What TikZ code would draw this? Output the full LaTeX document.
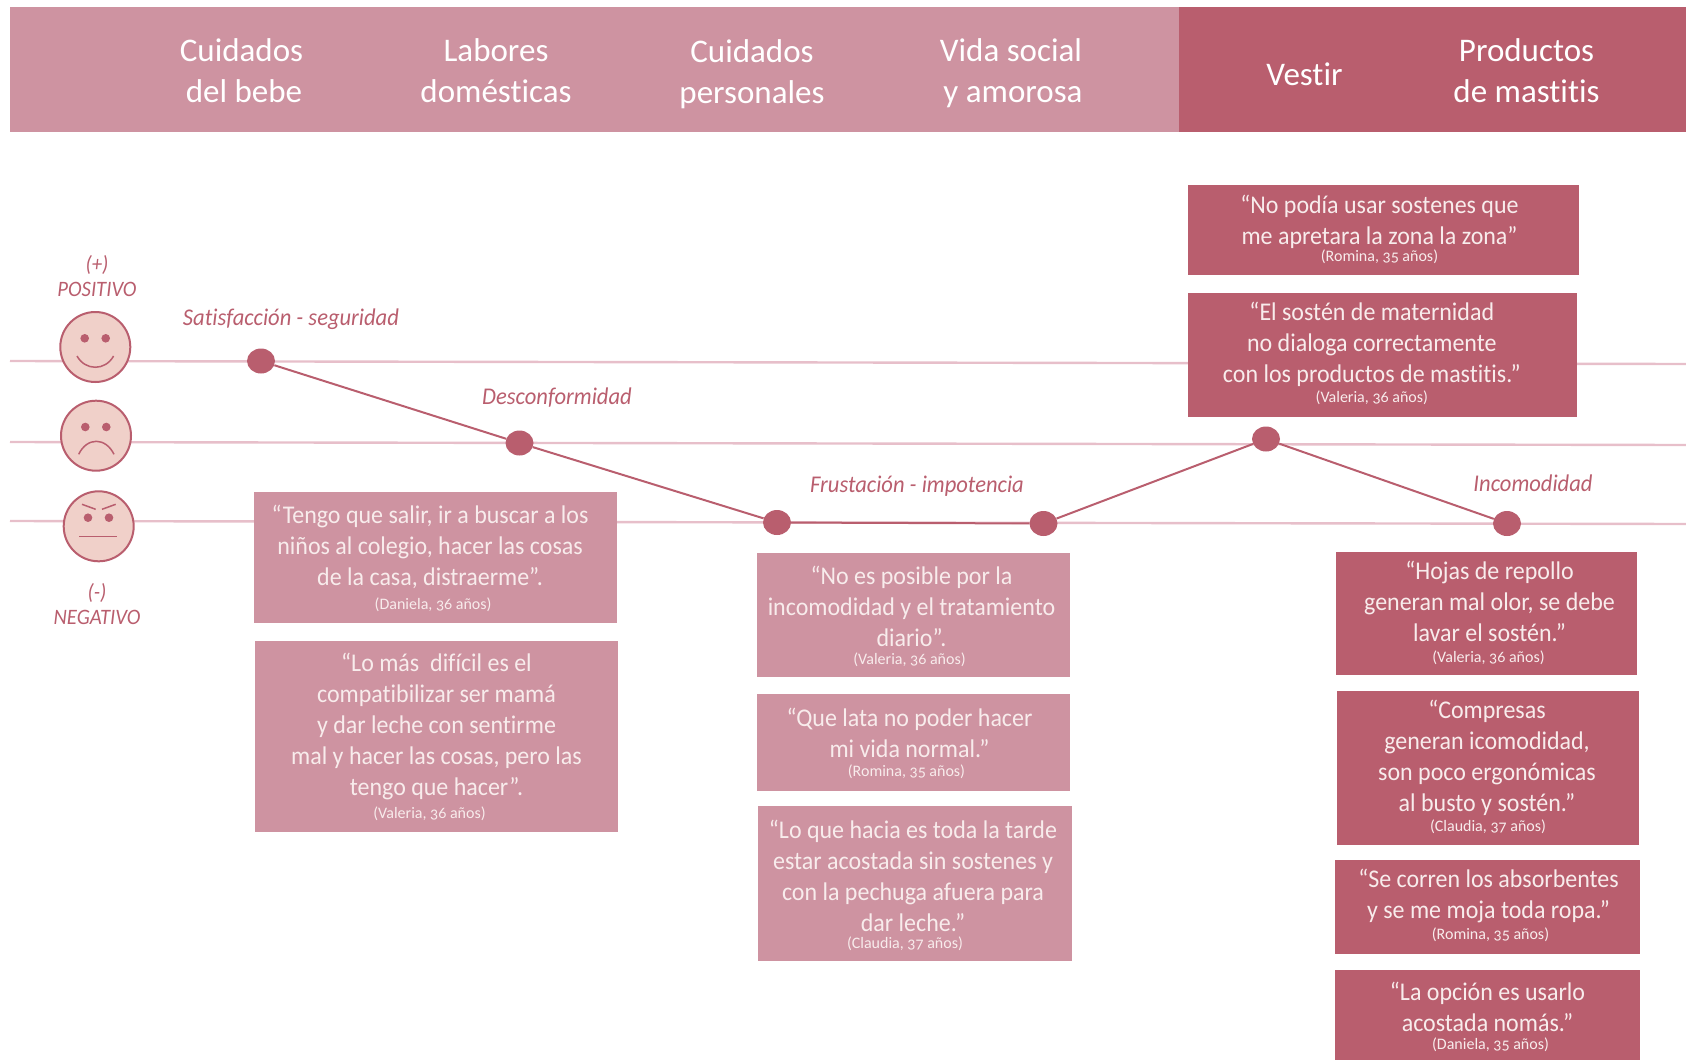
\documentclass[tikz,border=0pt]{standalone}
\usepackage{fontspec}
\setmainfont[Numbers=OldStyle,Ligatures=NoCommon]{Carlito}
\newfontfamily\quotefont[Numbers=OldStyle,Ligatures=NoCommon,FakeStretch=0.94]{Carlito}
\usepackage{xcolor}
\usetikzlibrary{shapes.geometric}
\definecolor{rosalight}{HTML}{CE93A1}
\definecolor{rosadark}{HTML}{B95E6E}
\definecolor{rosaface}{HTML}{F0D0C9}
\definecolor{rosaline}{HTML}{E7BFCA}
\definecolor{rosatext}{HTML}{F8ECEC}
% #1 gap to the line above, #2 sideways nudge, #3 who said it
\newcommand{\who}[3]{\\[#1]\hspace*{#2}{\normalfont\fontsize{16}{16}\selectfont #3}}
\tikzset{
	headtext/.style={text=white, align=center, font=\fontsize{33}{41}\selectfont, inner sep=0},
	quotetext/.style={text=rosatext, align=center, font=\quotefont\fontsize{25.5}{31}\selectfont, inner sep=0},
	moodtext/.style={text=rosadark, font=\quotefont\fontsize{24}{30}\selectfont\itshape, inner sep=0},
	sidetext/.style={text=rosadark, align=center, font=\quotefont\fontsize{22}{25}\selectfont\itshape, inner sep=0},
	quotelight/.style={fill=rosalight, inner sep=0},
	quotedark/.style={fill=rosadark, inner sep=0},
	face/.style={circle, draw=rosadark, line width=2pt, fill=rosaface, minimum size=70pt, inner sep=0},
	dot/.style={ellipse, fill=rosadark, minimum width=28pt, minimum height=25pt, inner sep=0},
	feature/.style={rosadark, line width=1.5pt}
}
\begin{document}
\begin{tikzpicture}[x=1pt,y=-1pt]
	\useasboundingbox (0,0) rectangle (1686,1060);

	% Header bands
	\node[quotelight, minimum width=1169pt, minimum height=125pt] (bandlight) at (594.5,69.5) {};
	\node[quotedark, minimum width=507pt, minimum height=125pt] (banddark) at (1432.5,69.5) {};
	\node[headtext] (bebe) at (241.5,71) {Cuidados\\ \hspace*{5pt}del bebe};
	\node[headtext] (labores) at (496,71) {Labores\\ domésticas};
	\node[headtext] (personales) at (752,74) {Cuidados\\ personales};
	\node[headtext] (vida) at (1011,73) {Vida social\\ \hspace*{4pt}y amorosa};
	\node[headtext] (vestir) at (1304.5,74) {Vestir};
	\node[headtext] (productos) at (1526.5,70.5) {Productos\\ de mastitis};

	% Mood levels
	\coordinate (highL) at (10,361);
	\coordinate (highR) at (1686,364);
	\coordinate (midL) at (10,442);
	\coordinate (midR) at (1686,445);
	\coordinate (lowL) at (10,521);
	\coordinate (lowR) at (1686,524);
	\draw[rosaline, line width=2.4pt] (highL) -- (highR);
	\draw[rosaline, line width=2.4pt] (midL) -- (midR);
	\draw[rosaline, line width=2.4pt] (lowL) -- (lowR);

	% Faces
	\node[face] (happy) at (95.3,347) {};
	\node[face] (sad) at (96,435.7) {};
	\node[face] (angry) at (98.7,526.3) {};
	\begin{scope}[shift={(95.3,347)}]
		\fill[rosadark] (-10.6,-8.7) circle (4.3) (10.4,-8.7) circle (4.3);
		\draw[feature] (-18.3,9) .. controls (-10,24) and (10,24) .. (18.3,9);
	\end{scope}
	\begin{scope}[shift={(96,435.7)}]
		\fill[rosadark] (-10.7,-8.7) circle (4.3) (10.3,-8.7) circle (4.3);
		\draw[feature] (-17.3,18.6) .. controls (-9,1.3) and (9.5,1.3) .. (18,18.6);
	\end{scope}
	\begin{scope}[shift={(98.7,526.3)}]
		\fill[rosadark] (-10.7,-8.6) circle (4.3) (10.3,-8.6) circle (4.3);
		\draw[feature] (-16.7,-22) -- (-3,-17);
		\draw[feature] (17,-22) -- (3.3,-17);
		\draw[feature] (-19.4,10) -- (18.3,10);
	\end{scope}
	\node[sidetext] (positivo) at (97,276) {(+)\\ POSITIVO};
	\node[sidetext] (negativo) at (97,604) {(-)\\ NEGATIVO};

	% Journey
	\node[dot] (satisf) at (261,361) {};
	\node[dot] (descon) at (519.5,443) {};
	\node[dot] (frusa) at (777,522.5) {};
	\node[dot] (frusb) at (1043.5,523.5) {};
	\node[dot] (vestido) at (1266,439) {};
	\node[dot] (incomo) at (1507,523.5) {};
	\draw[rosadark, line width=2pt] (satisf) -- (descon) -- (frusa) -- (frusb) -- (vestido) -- (incomo);
	\node[moodtext] at (291,319) (lblsatisf) {Satisfacción - seguridad};
	\node[moodtext] at (557,398) (lbldescon) {Desconformidad};
	\node[moodtext] at (917,486.5) (lblfrus) {Frustación - impotencia};
	\node[moodtext] at (1533,483) (lblincomo) {Incomodidad};

	% Quotes, first stretch
	\node[quotelight, minimum width=363pt, minimum height=131pt] (tengo) at (435.5,557.5) {};
	\node[quotetext, xshift=-5.4pt, yshift=-1pt] (tengotxt) at (tengo) {“Tengo que salir, ir a buscar a los\\ niños al colegio, hacer las cosas\\ de la casa, distraerme”.\who{-6.7pt}{6pt}{(Daniela, 36 años)}};
	\node[quotelight, minimum width=363pt, minimum height=191pt] (masdificil) at (436.5,736.5) {};
	\node[quotetext] (masdificiltxt) at (masdificil) {“Lo más~ difícil es el\\ compatibilizar ser mamá\\ y dar leche con sentirme\\ mal y hacer las cosas, pero las\\ tengo que hacer”.\who{-8pt}{-14pt}{(Valeria, 36 años)}};
	\node[quotelight, minimum width=313pt, minimum height=124pt] (posible) at (913.5,615) {};
	\node[quotetext, xshift=-2pt, yshift=-1.7pt] (posibletxt) at (posible) {“No es posible por la\\ incomodidad y el tratamiento\\ diario”.\who{-13pt}{-4pt}{(Valeria, 36 años)}};
	\node[quotelight, minimum width=313pt, minimum height=97pt] (lata) at (913.5,742.5) {};
	\node[quotetext, xshift=-4pt, yshift=-1.1pt] (latatxt) at (lata) {“Que lata no poder hacer\\ mi vida normal.”\who{-12pt}{-6pt}{(Romina, 35 años)}};
	\node[quotelight, minimum width=314pt, minimum height=155pt] (tarde) at (915,883.5) {};
	\node[quotetext, xshift=-2pt, yshift=-2.3pt] (tardetxt) at (tarde) {“Lo que hacia es toda la tarde\\ estar acostada sin sostenes y\\ con la pechuga afuera para\\ dar leche.”\who{-14pt}{-16pt}{(Claudia, 37 años)}};

	% Quotes, second stretch
	\node[quotedark, minimum width=391pt, minimum height=90pt] (podia) at (1383,230) {};
	\node[quotetext, xshift=-3.5pt, yshift=1pt] (podiatxt) at (podia) {“No podía usar sostenes que\\ me apretara la zona la zona”\who{-14pt}{0pt}{(Romina, 35 años)}};
	\node[quotedark, minimum width=389pt, minimum height=124pt] (sosten) at (1382.5,355) {};
	\node[quotetext, xshift=-10.7pt, yshift=1.6pt] (sostentxt) at (sosten) {“El sostén de maternidad\\ no dialoga correctamente\\ con los productos de mastitis.”\who{-11pt}{0pt}{(Valeria, 36 años)}};
	\node[quotedark, minimum width=301pt, minimum height=123pt] (repollo) at (1486.5,613.5) {};
	\node[quotetext, xshift=3pt, yshift=0.8pt] (repollotxt) at (repollo) {“Hojas de repollo\\ generan mal olor, se debe\\ lavar el sostén.”\who{-10.5pt}{-2pt}{(Valeria, 36 años)}};
	\node[quotedark, minimum width=302pt, minimum height=154pt] (compresas) at (1488,768) {};
	\node[quotetext, xshift=-1pt, yshift=1pt] (compresastxt) at (compresas) {“Compresas\\ generan icomodidad,\\ son poco ergonómicas\\ al busto y sostén.”\who{-11pt}{2pt}{(Claudia, 37 años)}};
	\node[quotedark, minimum width=305pt, minimum height=94pt] (absorbentes) at (1487.5,907) {};
	\node[quotetext, xshift=1pt, yshift=1.3pt] (absorbentestxt) at (absorbentes) {“Se corren los absorbentes\\ y se me moja toda ropa.”\who{-10.4pt}{4pt}{(Romina, 35 años)}};
	\node[quotedark, minimum width=305pt, minimum height=90pt] (opcion) at (1487.5,1015) {};
	\node[quotetext, yshift=-1.7pt] (opciontxt) at (opcion) {“La opción es usarlo\\ acostada nomás.”\who{-13pt}{6pt}{(Daniela, 35 años)}};
\end{tikzpicture}
\end{document}
